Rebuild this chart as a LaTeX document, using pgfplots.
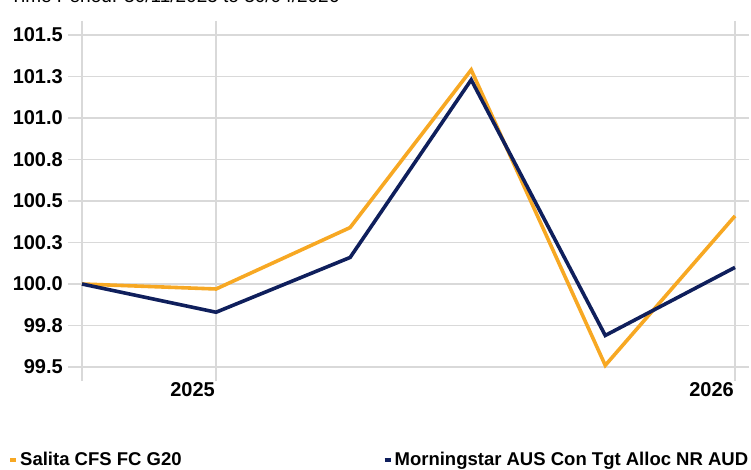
\documentclass[border=0pt]{standalone}
\usepackage{fontspec}
\setmainfont{Liberation Sans}
\usepackage{pgfplots}
\pgfplotsset{compat=1.18}
\definecolor{sorange}{HTML}{F7A823}
\definecolor{snavy}{HTML}{0F1F5C}
\definecolor{gridgray}{HTML}{D9D9D9}
\begin{document}
\begin{tikzpicture}[x=1pt,y=1pt]
\useasboundingbox (0,0) rectangle (751,469);
\node[anchor=base west, inner sep=0pt, font=\fontsize{19}{21}\selectfont] at (10,466) {Time Period: 30/11/2025 to 30/04/2026};
\begin{axis}[
  at={(82pt,102pt)}, anchor=south west,
  scale only axis, width=653pt, height=332pt,
  xmin=0, xmax=151, ymin=99.5, ymax=101.5,
  axis line style={draw=none},
  xtick={0,31,151}, xticklabels={,2025,2026},
  ytick={99.5,99.75,100,100.25,100.5,100.75,101,101.25,101.5},
  yticklabels={99.5,99.8,100.0,100.3,100.5,100.8,101.0,101.3,101.5},
  grid=major,
  major grid style={draw=gridgray, line width=1.8pt},
  tick align=outside, major tick length=14pt,
  tick style={draw=gridgray, line width=1.8pt},
  ticklabel style={font=\fontsize{20}{22}\selectfont\bfseries},
  yticklabel style={anchor=east, inner sep=0pt, xshift=-5pt},
  xticklabel style={anchor=north east, inner sep=0pt, yshift=-1pt, xshift=-1pt},
  clip=false,
  legend columns=2,
  legend style={at={(-0.1133,-0.2801)}, anchor=west, draw=none, fill=none,
    font=\fontsize{18.5}{20}\selectfont\bfseries, inner sep=0pt,
    /tikz/every even column/.append style={column sep=199pt}},
  legend cell align=left,
  legend image code/.code={\draw[line width=4pt,#1] (0pt,0pt) -- (6pt,0pt);},
]
\addplot[sorange, line width=3.6pt, line join=miter] coordinates {
  (0,100.0) (31,99.97) (62,100.34) (90,101.29) (121,99.51) (151,100.41)};
\addlegendentry{Salita CFS FC G20}
\addplot[snavy, line width=3.6pt, line join=miter] coordinates {
  (0,100.0) (31,99.83) (62,100.16) (90,101.23) (121,99.69) (151,100.10)};
\addlegendentry{Morningstar AUS Con Tgt Alloc NR AUD}
\end{axis}
\end{tikzpicture}
\end{document}
